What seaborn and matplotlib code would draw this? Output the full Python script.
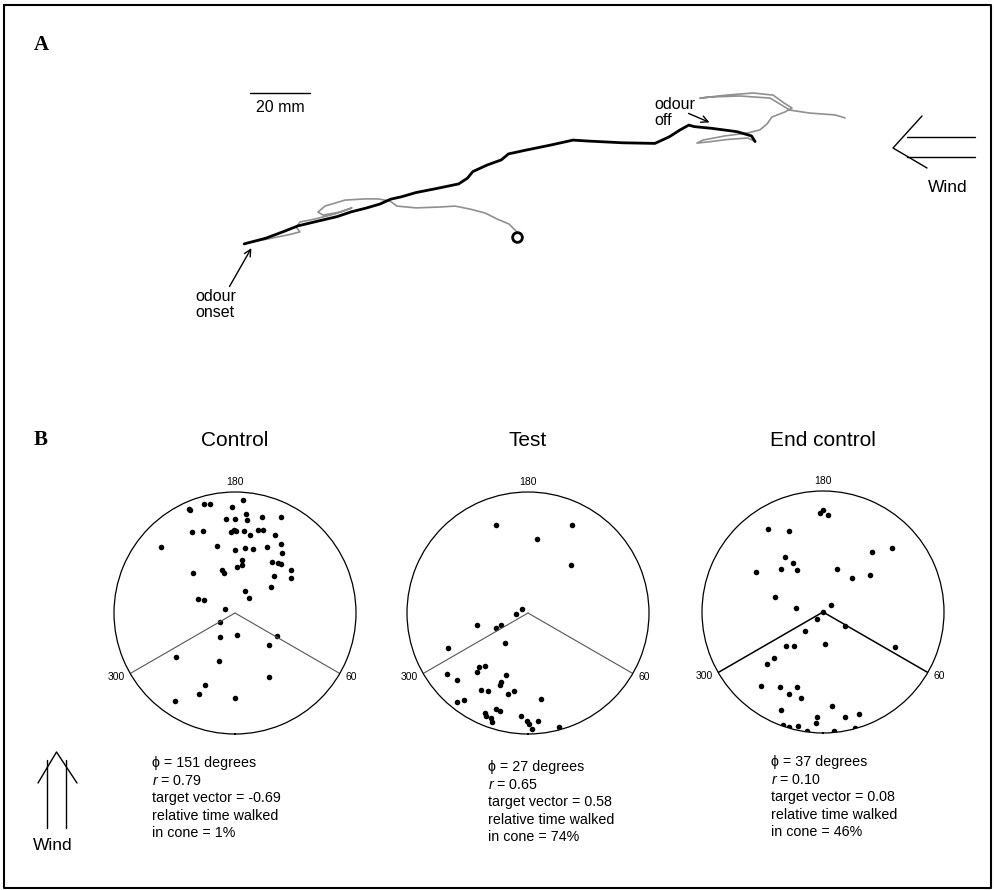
import numpy as np
import pandas as pd
import matplotlib
matplotlib.use("Agg")
import matplotlib.pyplot as plt
import seaborn as sns

sns.set_theme(style="white")
plt.rcParams["font.family"] = ["Liberation Sans", "DejaVu Sans"]
plt.rcParams["mathtext.fontset"] = "custom"
plt.rcParams["mathtext.rm"] = "Liberation Sans"
plt.rcParams["mathtext.it"] = "Liberation Sans:italic"
plt.rcParams["xtick.bottom"] = True
plt.rcParams["text.color"] = "black"
plt.rcParams["axes.labelcolor"] = "black"

# ---- panel A: walking track, mm ----
pre_x = [122.3, 119.7, 115.7, 111.7, 106.7, 101.7, 96.7, 88.7, 82.3, 80.0, 76.0, 71.7, 65.0, 58.3,
         56.0, 57.7, 63.3, 67.3, 61.7, 55.0, 50.0, 48.7, 50.0, 46.0, 41.0, 36.0, 32.0]
pre_y = [32.7, 35.3, 37.0, 39.0, 40.3, 41.3, 41.0, 40.7, 41.3, 43.0, 43.7, 43.7, 43.3, 41.3,
         39.3, 38.3, 39.3, 40.7, 38.7, 37.0, 36.0, 34.3, 32.7, 31.7, 30.7, 29.7, 29.0]
odour_x = [31.4, 38.6, 44.5, 49.3, 56.4, 62.4, 67.1, 71.9, 76.7, 80.2, 83.8, 88.6, 95.7, 102.9,
           105.8, 107.6, 112.4, 117.1, 119.5, 125.5, 133.8, 141.0, 145.7, 157.6, 168.3, 173.1,
           176.7, 179.6, 181.4, 187.4, 195.7, 200.5, 201.7]
odour_y = [28.7, 30.6, 32.8, 34.7, 36.4, 37.8, 39.4, 40.6, 42.0, 43.6, 44.4, 45.8, 47.2, 48.7,
           50.6, 52.8, 55.0, 56.7, 58.7, 60.0, 61.7, 63.3, 63.0, 62.4, 62.2, 64.4,
           66.7, 68.3, 67.8, 67.2, 66.1, 64.7, 62.8]
post_x = [201.7, 199.3, 192.3, 187.0, 182.3, 184.3, 191.7, 199.3, 203.3, 205.7, 207.3, 211.7,
          214.0, 211.3, 207.7, 201.0, 192.3, 183.3, 187.3, 196.7, 206.7, 213.3, 220.0, 228.3, 231.7]
post_y = [62.8, 64.0, 63.5, 62.8, 62.3, 63.3, 64.7, 65.7, 66.7, 68.7, 71.0, 72.7,
          74.0, 75.7, 78.3, 79.0, 78.3, 77.3, 77.7, 78.0, 77.3, 73.3, 72.3, 71.7, 70.7]
start_x, start_y = 122.3, 31.0
scale_mm = 20

# ---- panel B: positions in units of arena radius (east, north) ----
control_x = [0.066, -0.025, -0.260, -0.208, -0.383, -0.369, 0.093, -0.074, -0.003, 0.098, 0.221, 0.380,
             -0.352, -0.268, -0.030, -0.008, 0.011, 0.074, 0.126, 0.189, 0.230, 0.333, -0.615, -0.145,
             0.000, 0.079, 0.148, 0.265, 0.383, 0.385, 0.055, 0.057, 0.014, 0.306, 0.355, 0.383, 0.462,
             0.464, 0.320, -0.350, -0.104, -0.090, 0.301, 0.079, 0.117, -0.306, -0.257, -0.079, -0.123,
             -0.123, 0.014, 0.350, 0.281, -0.489, -0.134, 0.284, -0.249, -0.298, -0.500, 0.000]
control_y = [0.934, 0.877, 0.904, 0.899, 0.858, 0.852, 0.820, 0.779, 0.779, 0.765, 0.790, 0.792,
             0.667, 0.675, 0.667, 0.689, 0.675, 0.680, 0.648, 0.686, 0.686, 0.648, 0.544, 0.555,
             0.519, 0.538, 0.525, 0.544, 0.571, 0.492, 0.440, 0.393, 0.377, 0.423, 0.410, 0.407, 0.358,
             0.290, 0.306, 0.333, 0.352, 0.331, 0.216, 0.183, 0.123, 0.117, 0.104, 0.036, -0.074,
             -0.197, -0.183, -0.186, -0.262, -0.363, -0.399, -0.525, -0.596, -0.672, -0.727, -0.705]
test_x = [-0.262, 0.362, 0.077, 0.359, -0.050, -0.097, -0.425, -0.268, -0.227, -0.663, -0.191, -0.401,
          -0.354, -0.425, -0.671, -0.586, -0.182, -0.221, -0.235, -0.387, -0.329, -0.169, -0.113, 0.105,
          -0.586, -0.530, -0.359, -0.262, -0.229, -0.061, -0.309, -0.351, -0.298, -0.006, 0.008, 0.083,
          0.033, 0.260]
test_y = [0.729, 0.724, 0.610, 0.395, 0.030, -0.008, -0.102, -0.127, -0.102, -0.290, -0.249, -0.445,
          -0.442, -0.489, -0.500, -0.550, -0.511, -0.572, -0.599, -0.635, -0.644, -0.666, -0.646, -0.707,
          -0.738, -0.718, -0.829, -0.790, -0.807, -0.848, -0.870, -0.851, -0.898, -0.892, -0.917, -0.890,
          -0.962, -0.940]
end_x = [-0.025, 0.000, 0.039, -0.454, -0.279, 0.409, 0.571, -0.312, -0.245, -0.552, -0.351, -0.212,
         0.117, 0.237, 0.390, -0.393, -0.220, 0.067, 0.000, -0.047, 0.184, -0.150, -0.306, -0.242,
         0.017, 0.599, -0.409, -0.465, -0.510, -0.354, -0.212, -0.284, -0.178, -0.351, 0.078, -0.050,
         0.178, 0.295, -0.334, -0.279, -0.203, -0.056, -0.134, 0.092, 0.265]
end_y = [0.822, 0.844, 0.799, 0.682, 0.666, 0.493, 0.532, 0.454, 0.401, 0.331, 0.357, 0.343,
         0.357, 0.284, 0.304, 0.128, 0.036, 0.058, 0.000, -0.056, -0.114, -0.156, -0.281, -0.284,
         -0.262, -0.292, -0.382, -0.426, -0.610, -0.621, -0.618, -0.677, -0.708, -0.808, -0.774, -0.864,
         -0.866, -0.841, -0.933, -0.947, -0.939, -0.916, -0.980, -0.985, -0.960]

titles = ["Control", "Test", "End control"]
phi_deg = [151, 27, 37]
r_vals = [0.79, 0.65, 0.10]
target_vec = [-0.69, 0.58, 0.08]
in_cone = [1, 74, 46]
cone_edges = [60, 300]
tick_angles = [180, 60, 300]

W, H = 994, 890
fig = plt.figure(figsize=(W / 100, H / 100), dpi=100)

# overlay in pixel units for labels, arrows and the frame
over = fig.add_axes([0, 0, 1, 1])
over.set_xlim(0, W)
over.set_ylim(H, 0)
over.axis("off")
over.plot([4, 991, 991, 4, 4], [5, 5, 888, 888, 5], color="black", lw=1.5)
over.text(34, 45, "A", family="Liberation Serif", weight="bold", fontsize=15, va="center")
over.text(34, 440, "B", family="Liberation Serif", weight="bold", fontsize=15, va="center")

# wind arrow, panel A
for yy in (137, 157):
    over.plot([907, 975], [yy, yy], color="black", lw=1)
over.plot([922, 893, 927], [116, 148, 168], color="black", lw=1)
over.text(948, 187, "Wind", fontsize=12.5, ha="center", va="center")
# wind arrow, panel B
for xx in (47, 66):
    over.plot([xx, xx], [760, 828], color="black", lw=1)
over.plot([38, 56.5, 77], [783, 752, 783], color="black", lw=1)
over.text(53, 845, "Wind", fontsize=12.5, ha="center", va="center")

# ---- panel A ----
axa = fig.add_axes([150 / W, (H - 330) / H, 720 / W, 250 / H])
axa.set_facecolor("none")
sns.lineplot(x=pre_x, y=pre_y, sort=False, estimator=None, color="#909090", lw=1.2, ax=axa)
sns.lineplot(x=post_x, y=post_y, sort=False, estimator=None, color="#909090", lw=1.2, ax=axa)
sns.lineplot(x=odour_x, y=odour_y, sort=False, estimator=None, color="black", lw=2.0, ax=axa)
axa.plot(start_x, start_y, marker="o", ms=7, mfc="white", mec="black", mew=2)
axa.set_xlim(0, 240)
axa.set_ylim(0, 250 / 3)
axa.axis("off")

axa.plot([33.3, 33.3 + scale_mm], [79, 79], color="black", lw=1)
axa.text(33.3 + scale_mm / 2, 74, f"{scale_mm} mm", fontsize=11.5, ha="center", va="center")
axa.text(168, 72.5, "odour\noff", fontsize=11.5, ha="left", va="center", linespacing=1.15)
axa.annotate("", xy=(186.5, 69.2), xytext=(179.5, 72.2),
             arrowprops=dict(arrowstyle="->", lw=1, color="black", shrinkA=0, shrinkB=0))
axa.text(15, 8.5, "odour\nonset", fontsize=11.5, ha="left", va="center", linespacing=1.15)
axa.annotate("", xy=(33.8, 27.3), xytext=(26.5, 14.5),
             arrowprops=dict(arrowstyle="->", lw=1, color="black", shrinkA=0, shrinkB=0))

# ---- panel B ----
centres = [(235, 613), (528, 613), (823, 612)]
R = 121
stats_x = [152, 488, 771]
stats_y0 = [763, 767, 762]
datasets = [(control_x, control_y), (test_x, test_y), (end_x, end_y)]
cone_style = [("#555555", 0.8), ("#555555", 0.8), ("black", 1.1)]

for i, (cx, cy) in enumerate(centres):
    ax = fig.add_axes([(cx - R) / W, (H - cy - R) / H, 2 * R / W, 2 * R / H], projection="polar")
    ax.set_theta_zero_location("S")
    ax.set_theta_direction(1)
    xs = np.asarray(datasets[i][0])
    ys = np.asarray(datasets[i][1])
    df = pd.DataFrame({"theta": np.arctan2(xs, -ys), "r": np.hypot(xs, ys)})
    sns.scatterplot(data=df, x="theta", y="r", ax=ax, color="black", s=16,
                    linewidth=0, legend=False)
    col, lw = cone_style[i]
    for a in cone_edges:
        ax.plot([np.radians(a)] * 2, [0, 1], color=col, lw=lw)
    ax.set_ylim(0, 1)
    ax.set_yticks([])
    ax.set_xticks(np.radians(tick_angles))
    ax.set_xticklabels([])
    ax.tick_params(axis="x", direction="out", length=3, width=0.8, color="black")
    ax.grid(False)
    ax.set_xlabel("")
    ax.set_ylabel("")
    ax.spines["polar"].set_linewidth(0.9)
    ax.spines["polar"].set_color("black")
    ax.text(np.pi, 1.04, "180", fontsize=7.5, ha="center", va="bottom")
    ax.text(np.radians(60), 1.05, "60", fontsize=7.5, ha="left", va="center")
    ax.text(np.radians(300), 1.05, "300", fontsize=7.5, ha="right", va="center")

    over.text(cx, 440, titles[i], fontsize=15, ha="center", va="center")
    lines = [f"\u03d5 = {phi_deg[i]} degrees",
             f"$r$ = {r_vals[i]:.2f}",
             f"target vector = {target_vec[i]:.2f}",
             "relative time walked",
             f"in cone = {in_cone[i]}%"]
    for k, t in enumerate(lines):
        over.text(stats_x[i], stats_y0[i] + k * 17.6, t, fontsize=10.3, ha="left", va="center")

fig.savefig("out.png", dpi=100)
